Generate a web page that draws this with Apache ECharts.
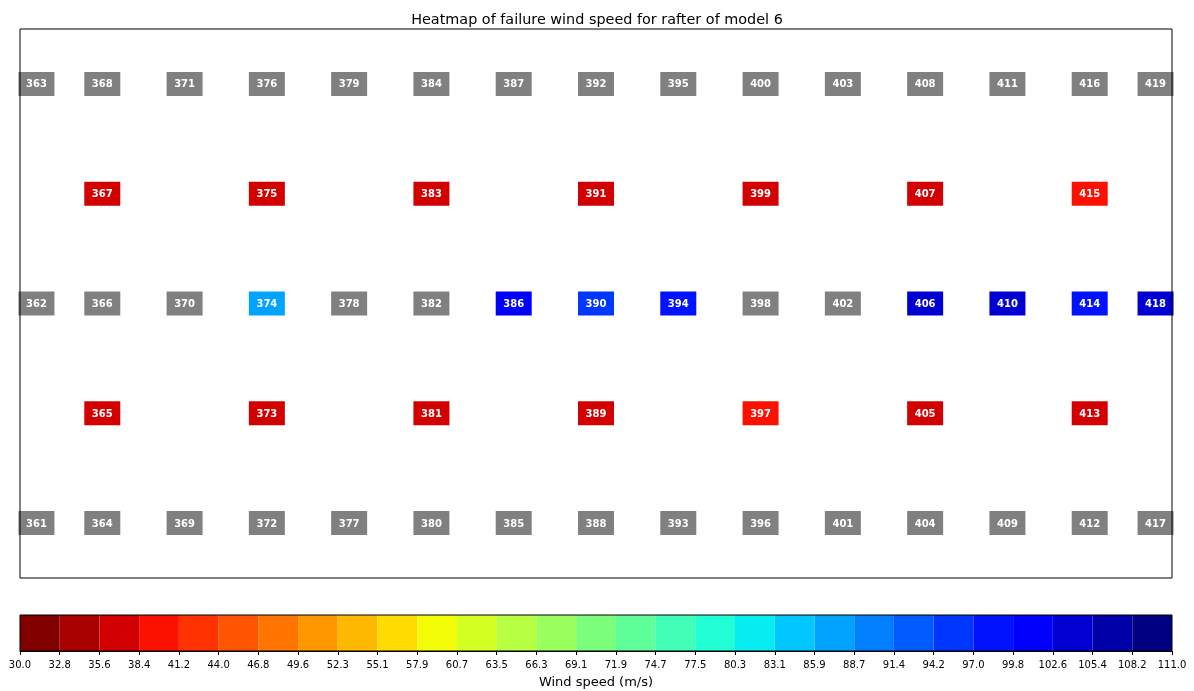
<!DOCTYPE html>
<html lang="en">
<head>
<meta charset="UTF-8">
<title>Heatmap of failure wind speed for rafter of model 6</title>
<style>
    html, body { margin: 0; padding: 0; background: #fff; }
    #main { width: 1194px; height: 691px; }
</style>
</head>
<body>
<div id="main"></div>
<script src="https://cdn.jsdelivr.net/npm/echarts@6/dist/echarts.min.js"></script>
<script>
    // node number, position on the rafter plan (plot units) and failure wind speed
    // null = node did not fail (drawn grey)
    var nodeIds = [361, 362, 363, 364, 365, 366, 367, 368, 369, 370,
                   371, 372, 373, 374, 375, 376, 377, 378, 379, 380,
                   381, 382, 383, 384, 385, 386, 387, 388, 389, 390,
                   391, 392, 393, 394, 395, 396, 397, 398, 399, 400,
                   401, 402, 403, 404, 405, 406, 407, 408, 409, 410,
                   411, 412, 413, 414, 415, 416, 417, 418, 419];
    var nodeX = [0.2, 0.2, 0.2, 1, 1, 1, 1, 1, 2, 2,
                 2, 3, 3, 3, 3, 3, 4, 4, 4, 5,
                 5, 5, 5, 5, 6, 6, 6, 7, 7, 7,
                 7, 7, 8, 8, 8, 9, 9, 9, 9, 9,
                 10, 10, 10, 11, 11, 11, 11, 11, 12, 12,
                 12, 13, 13, 13, 13, 13, 13.8, 13.8, 13.8];
    var nodeY = [0.5, 2.5, 4.5, 0.5, 1.5, 2.5, 3.5, 4.5, 0.5, 2.5,
                 4.5, 0.5, 1.5, 2.5, 3.5, 4.5, 0.5, 2.5, 4.5, 0.5,
                 1.5, 2.5, 3.5, 4.5, 0.5, 2.5, 4.5, 0.5, 1.5, 2.5,
                 3.5, 4.5, 0.5, 2.5, 4.5, 0.5, 1.5, 2.5, 3.5, 4.5,
                 0.5, 2.5, 4.5, 0.5, 1.5, 2.5, 3.5, 4.5, 0.5, 2.5,
                 4.5, 0.5, 1.5, 2.5, 3.5, 4.5, 0.5, 2.5, 4.5];
    var windSpeed = [null, null, null, null, 36.9, null, 37.2, null, null, null,
                     null, null, 36.8, 87.3, 37.0, null, null, null, null, null,
                     37.1, null, 36.9, null, null, 100.5, null, null, 37.3, 95.6,
                     37.0, null, null, 98.8, null, null, 39.8, null, 37.4, null,
                     null, null, null, null, 36.7, 104.0, 37.1, null, null, 104.0,
                     null, null, 37.2, 98.5, 39.8, null, null, 104.0, null];

    // colorbar
    var cbMin = 30, cbMax = 111, nBins = 29;
    var tickLabels = ['30.0', '32.8', '35.6', '38.4', '41.2', '44.0', '46.8', '49.6', '52.3', '55.1',
                      '57.9', '60.7', '63.5', '66.3', '69.1', '71.9', '74.7', '77.5', '80.3', '83.1',
                      '85.9', '88.7', '91.4', '94.2', '97.0', '99.8', '102.6', '105.4', '108.2', '111.0'];

    var FONT = 'DejaVu Sans';

    // jet colormap (reversed: low speed = dark red, high speed = dark blue)
    var jetSeg = {
        r: [[0, 0], [0.35, 0], [0.66, 1], [0.89, 1], [1, 0.5]],
        g: [[0, 0], [0.125, 0], [0.375, 1], [0.64, 1], [0.91, 0], [1, 0]],
        b: [[0, 0.5], [0.11, 1], [0.34, 1], [0.65, 0], [1, 0]]
    };
    function segVal(seg, t) {
        for (var i = 1; i < seg.length; i++) {
            if (t <= seg[i][0]) {
                var a = seg[i - 1], b = seg[i];
                return a[1] + (b[1] - a[1]) * (t - a[0]) / (b[0] - a[0]);
            }
        }
        return seg[seg.length - 1][1];
    }
    function jet(t) {
        return 'rgb(' + Math.round(segVal(jetSeg.r, t) * 255) + ',' +
            Math.round(segVal(jetSeg.g, t) * 255) + ',' +
            Math.round(segVal(jetSeg.b, t) * 255) + ')';
    }
    var binColors = [];
    for (var k = 0; k < nBins; k++) {
        binColors.push(jet(1 - k / (nBins - 1)));
    }
    var binWidth = (cbMax - cbMin) / nBins;
    function colorFor(v) {
        if (v == null) return '#808080';
        var b = Math.floor((v - cbMin) / binWidth);
        b = Math.max(0, Math.min(nBins - 1, b));
        return binColors[b];
    }

    var chart = echarts.init(document.getElementById('main'));

    var option = {
        animation: false,
        backgroundColor: '#fff',
        title: {
            text: 'Heatmap of failure wind speed for rafter of model 6',
            left: 'center',
            top: 8,
            textStyle: { fontFamily: FONT, fontSize: 14.4, fontWeight: 'normal', color: '#000' }
        },
        grid: [
            { left: 20, right: 22, top: 29, height: 549, show: true, z: 5, outerBoundsMode: 'none',
              borderColor: '#000', borderWidth: 1, backgroundColor: 'transparent' },
            { left: 20, right: 22, top: 615, height: 36, show: true, z: 5, outerBoundsMode: 'none',
              borderColor: '#000', borderWidth: 1, backgroundColor: 'transparent' }
        ],
        xAxis: [
            { gridIndex: 0, type: 'value', min: 0, max: 14, show: false },
            {
                gridIndex: 1, type: 'value', min: 0, max: nBins, interval: 1,
                axisLine: { show: true, lineStyle: { color: '#000', width: 1 } },
                axisTick: { show: true, length: 4, lineStyle: { color: '#000', width: 1 } },
                splitLine: { show: false },
                axisLabel: {
                    margin: 9, fontSize: 10, color: '#000', fontFamily: FONT,
                    showMinLabel: true, showMaxLabel: true,
                    formatter: function (v) { return tickLabels[Math.round(v)]; }
                },
                name: 'Wind speed (m/s)',
                nameLocation: 'middle',
                nameGap: 25,
                nameTextStyle: { fontFamily: FONT, fontSize: 13, color: '#000' }
            }
        ],
        yAxis: [
            { gridIndex: 0, type: 'value', min: 0, max: 5, show: false },
            { gridIndex: 1, type: 'value', min: 0, max: 1, show: false }
        ],
        series: [
            {
                // node boxes
                type: 'custom',
                xAxisIndex: 0,
                yAxisIndex: 0,
                data: nodeIds.map(function (id, i) { return [nodeX[i], nodeY[i]]; }),
                encode: { x: 0, y: 1 },
                renderItem: function (params, api) {
                    var i = params.dataIndex;
                    var c = api.coord([api.value(0), api.value(1)]);
                    return {
                        type: 'group',
                        children: [
                            {
                                type: 'rect',
                                shape: { x: c[0] - 18, y: c[1] - 12, width: 36, height: 24 },
                                style: { fill: colorFor(windSpeed[i]) }
                            },
                            {
                                type: 'text',
                                x: c[0],
                                y: c[1] + 1,
                                style: {
                                    text: String(nodeIds[i]),
                                    fill: '#fff',
                                    fontFamily: FONT,
                                    fontSize: 10,
                                    fontWeight: 'bold',
                                    align: 'center',
                                    verticalAlign: 'middle'
                                }
                            }
                        ]
                    };
                }
            },
            {
                // colorbar cells
                type: 'custom',
                xAxisIndex: 1,
                yAxisIndex: 1,
                data: binColors.map(function (c, i) { return [i]; }),
                encode: { x: 0 },
                renderItem: function (params, api) {
                    var i = api.value(0);
                    var p0 = api.coord([i, 0]);
                    var p1 = api.coord([i + 1, 1]);
                    return {
                        type: 'rect',
                        shape: { x: p0[0], y: p1[1], width: p1[0] - p0[0], height: p0[1] - p1[1] },
                        style: { fill: binColors[i] }
                    };
                }
            }
        ]
    };

    chart.setOption(option);
</script>
</body>
</html>
